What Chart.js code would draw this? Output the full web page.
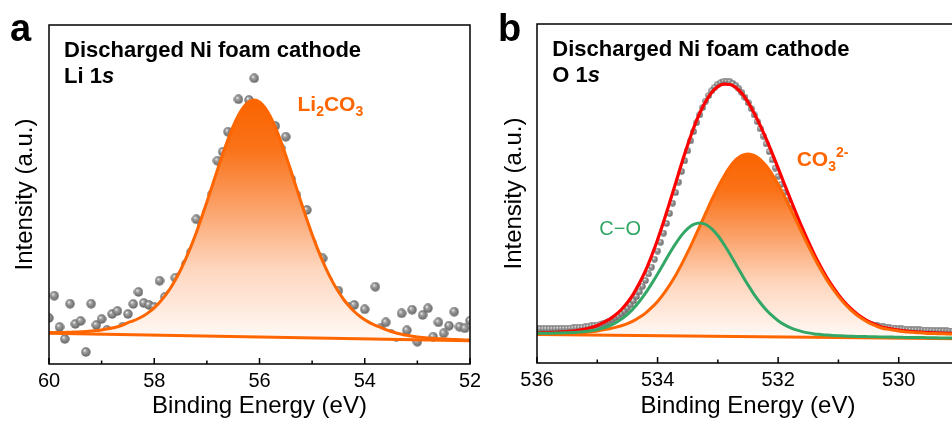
<!DOCTYPE html>
<html><head><meta charset="utf-8">
<script src="https://cdn.jsdelivr.net/npm/chart.js@4.4.1/dist/chart.umd.min.js"></script>
<style>
html,body{margin:0;padding:0;background:#fff;overflow:hidden;width:952px;height:423px;}
#wrap{position:relative;width:952px;height:423px;overflow:hidden;background:#fff;}
canvas{position:absolute;top:0;}
#ca{left:0;} #cb{left:480px;}
</style></head><body>
<div id="wrap"><canvas id="ca" width="480" height="423"></canvas><canvas id="cb" width="492" height="423"></canvas></div>
<script>
// ---------- Panel a : Li 1s ----------
const energyLi = [60.0,59.9,59.8,59.7,59.6,59.5,59.4,59.3,59.2,59.1,59.0,58.9,58.8,58.7,58.6,58.5,58.4,58.3,58.2,58.1,58.0,57.9,57.8,57.7,57.6,57.5,57.4,57.3,57.2,57.1,57.0,56.9,56.8,56.7,56.6,56.5,56.4,56.3,56.2,56.1,56.0,55.9,55.8,55.7,55.6,55.5,55.4,55.3,55.2,55.1,55.0,54.9,54.8,54.7,54.6,54.5,54.4,54.3,54.2,54.1,54.0,53.9,53.8,53.7,53.6,53.5,53.4,53.3,53.2,53.1,53.0,52.9,52.8,52.7,52.6,52.5,52.4,52.3,52.2,52.1,52.0];
const countsLi = [46,68.3,37,25,60.3,40,43,12,60.3,39,45,34,50,53,37.3,50,60,72,61,59,57,83.3,67,70,86.3,88,100,112,144.7,138,152,170,203.3,212.3,232.3,232,264.7,250,264,285.7,255,248,240,238,216,227.3,185,169,152,154,121,108,105.7,84,74,73.3,58,57,59,40,54.7,36.3,77.3,35.7,41.7,30,27.3,50.7,33.7,54.3,22.3,49,55.7,27.3,41.7,30.7,38.3,52.3,37.3,35.7,43.3];
const fitLi = [31.5,31.5,31.5,31.6,31.7,31.9,32.2,32.5,32.9,33.4,34.1,35.0,36.0,37.3,38.9,41.4,43.2,45.5,48.3,51.9,56.2,61.5,67.8,75.3,84.0,94.0,105.3,117.9,131.6,146.5,162.0,178.0,194.1,209.7,224.4,237.6,248.7,257.1,262.3,264.0,262.1,256.7,248.1,236.8,223.4,208.5,192.7,176.4,160.2,144.5,129.5,115.6,102.8,91.3,81.1,72.2,64.5,58.0,52.5,48.0,44.2,41.2,38.7,36.7,34.3,32.5,31.0,29.8,28.7,27.8,27.1,26.5,26.0,25.6,25.3,25.0,24.7,24.5,24.3,24.1,23.9];
const bgLiEnergy = [60, 52];
const bgLi = [30.7, 23.3];
const majorTicksLi = [60, 58, 56, 54, 52];
const minorTicksLi = [59, 57, 55, 53];

// ---------- Panel b : O 1s ----------
const energyO = [536.0,535.9,535.8,535.7,535.6,535.5,535.4,535.3,535.2,535.1,535.0,534.9,534.8,534.7,534.6,534.5,534.4,534.3,534.2,534.1,534.0,533.9,533.8,533.7,533.6,533.5,533.4,533.3,533.2,533.1,533.0,532.9,532.8,532.7,532.6,532.5,532.4,532.3,532.2,532.1,532.0,531.9,531.8,531.7,531.6,531.5,531.4,531.3,531.2,531.1,531.0,530.9,530.8,530.7,530.6,530.5,530.4,530.3,530.2,530.1,530.0,529.9,529.8,529.7,529.6,529.5,529.4,529.3,529.2,529.1,529.0];
const envelopeO = [30.2,30.3,30.5,30.7,31.1,31.5,32.0,32.9,33.9,35.5,37.4,40.4,43.6,48.0,53.5,60.5,69.2,79.9,92.3,107.0,123.3,141.3,160.4,179.9,199.7,218.2,235.3,250.0,261.8,270.7,276.4,278.8,278.5,275.4,269.4,260.8,250.1,237.9,224.3,209.9,194.8,179.5,164.4,149.5,135.1,121.5,108.6,97.0,86.2,76.8,68.4,61.0,54.8,49.5,45.2,41.5,38.7,36.3,34.9,33.8,32.9,32.1,31.5,31.0,30.7,30.3,30.1,29.9,29.7,29.5,29.3];
const carbonateO = [29.0,29.0,29.1,29.1,29.3,29.5,29.7,30.1,30.5,31.2,31.9,33.2,34.2,35.6,37.3,39.4,42.1,45.7,49.9,55.3,61.6,69.2,77.9,87.7,98.9,110.8,123.6,136.8,150.1,163.3,175.6,186.6,196.0,203.3,207.7,209.1,207.7,203.7,197.2,188.8,178.6,167.1,155.0,142.3,129.6,117.2,105.2,94.2,83.9,74.8,66.6,59.4,53.4,48.2,44.0,40.4,37.6,35.3,33.9,32.9,32.0,31.3,30.8,30.3,30.0,29.6,29.4,29.3,29.1,29.0,28.8];
const coO = [29.7,29.7,29.8,29.9,30.1,30.2,30.4,30.9,31.4,32.3,33.4,35.0,37.2,40.1,43.9,48.7,54.6,61.7,69.8,79.1,89.0,99.3,109.7,119.3,127.9,134.4,138.6,140.1,138.5,134.2,127.5,118.8,109.1,98.6,88.2,78.1,68.7,60.5,53.3,47.3,42.3,38.4,35.4,33.1,31.4,30.1,29.1,28.5,27.9,27.6,27.3,27.0,26.8,26.6,26.5,26.3,26.2,26.1,26.0,25.9,25.8,25.6,25.5,25.4,25.4,25.3,25.2,25.1,25.0,24.9,24.8];
const bgOEnergy = [536, 529];
const bgO = [28.5, 24.3];
const dotEnergyO = [536,535.95,535.9,535.85,535.8,535.75,535.7,535.65,535.6,535.55,535.5,535.45,535.4,535.35,535.3,535.25,535.2,535.15,535.1,535.05,535,534.95,534.9,534.85,534.8,534.75,534.7,534.65,534.6,534.55,534.5,534.45,534.4,534.35,534.3,534.25,534.2,534.15,534.1,534.05,534,533.95,533.9,533.85,533.8,533.75,533.7,533.65,533.6,533.55,533.5,533.45,533.4,533.35,533.3,533.25,533.2,533.15,533.1,533.05,533,532.95,532.9,532.85,532.8,532.75,532.7,532.65,532.6,532.55,532.5,532.45,532.4,532.35,532.3,532.25,532.2,532.15,532.1,532.05,532,531.95,531.9,531.85,531.8,531.75,531.7,531.65,531.6,531.55,531.5,531.45,531.4,531.35,531.3,531.25,531.2,531.15,531.1,531.05,531,530.95,530.9,530.85,530.8,530.75,530.7,530.65,530.6,530.55,530.5,530.45,530.4,530.35,530.3,530.25,530.2,530.15,530.1,530.05,530,529.95,529.9,529.85,529.8,529.75,529.7,529.65,529.6,529.55,529.5,529.45,529.4,529.35,529.3,529.25,529.2,529.15,529.1,529.05,529];
const countsO = [34.2,34.2,34.2,34.2,34.2,34.2,34.3,34.4,34.5,34.6,34.7,34.9,35.1,35.3,35.5,35.8,36.1,36.6,37.1,37.5,38.0,38.8,39.7,40.6,42.0,43.6,45.2,47.0,49.4,52.0,55.0,58.3,62.1,66.5,71.2,76.7,82.5,89.1,95.9,103.8,112.0,120.8,129.9,139.6,149.6,159.9,170.4,180.9,191.6,202.3,212.3,222.2,231.5,240.4,248.3,255.6,262.0,267.5,272.3,275.9,278.9,280.5,281.8,281.6,281.3,279.6,277.4,274.2,270.3,265.7,260.4,254.6,248.2,241.6,234.4,227.0,219.2,211.4,203.2,195.0,186.8,178.6,170.4,162.3,154.3,146.5,138.7,131.3,124.0,117.0,110.2,103.9,97.8,92.0,86.6,81.5,76.8,72.2,68.1,64.1,60.8,57.5,54.6,51.9,49.6,47.4,45.4,43.7,42.2,40.8,39.5,38.7,37.9,37.3,36.7,36.2,35.8,35.3,35.0,34.6,34.3,34.1,33.9,33.7,33.5,33.3,33.2,33.1,33.0,32.9,32.8,32.7,32.5,32.4,32.3,32.2,32.1,32.0,32.0,31.9,31.9];
const majorTicksO = [536, 534, 532, 530];
const minorTicksO = [535, 533, 531];

// ---------- styling ----------
const FAM = '"Liberation Sans", Arial, Helvetica, sans-serif';
const ORANGE = '#FF6600';
const RED = '#FF0000';
const GREEN = '#33A866';

function sphere(d) {
  const c = document.createElement('canvas');
  c.width = d; c.height = d;
  const g = c.getContext('2d');
  const r = d / 2;
  const grad = g.createRadialGradient(r * 0.72, r * 0.66, r * 0.05, r, r, r);
  grad.addColorStop(0, '#f2f2f2');
  grad.addColorStop(0.28, '#a4a4a4');
  grad.addColorStop(0.72, '#7a7a7a');
  grad.addColorStop(1, '#5e5e5e');
  g.fillStyle = grad;
  g.beginPath(); g.arc(r, r, r - 0.3, 0, Math.PI * 2); g.fill();
  return c;
}

function pts(xs, ys) { return xs.map((x, i) => ({ x: x, y: ys[i] })); }

function fadeFill(peakArr, baseArr) {
  return (c) => {
    const ch = c.chart;
    if (!ch.chartArea) return 'rgb(252,168,114)';
    const y = ch.scales.y;
    const top = y.getPixelForValue(Math.max(...peakArr));
    const bot = y.getPixelForValue(Math.min(...baseArr));
    const g = ch.ctx.createLinearGradient(0, top, 0, bot);
    g.addColorStop(0, 'rgb(250,100,0)');
    g.addColorStop(0.2, 'rgb(250,114,24)');
    g.addColorStop(0.45, 'rgb(251,162,106)');
    g.addColorStop(0.7, 'rgb(254,214,190)');
    g.addColorStop(1, 'rgb(255,250,247)');
    return g;
  };
}

function framePlugin(major, minor) {
  return {
    id: 'frame',
    afterDatasetsDraw(chart) {
      const { ctx, chartArea: a } = chart;
      const x = chart.scales.x;
      ctx.save();
      ctx.strokeStyle = '#000';
      ctx.lineWidth = 1.5;
      ctx.strokeRect(a.left, a.top, a.right - a.left, a.bottom - a.top);
      ctx.beginPath();
      major.forEach(v => { const p = x.getPixelForValue(v); ctx.moveTo(p, a.bottom); ctx.lineTo(p, a.bottom - 6); });
      minor.forEach(v => { const p = x.getPixelForValue(v); ctx.moveTo(p, a.bottom); ctx.lineTo(p, a.bottom - 3.5); });
      ctx.stroke();
      ctx.restore();
    }
  };
}

function notesPlugin(items) {
  return {
    id: 'notes',
    afterDraw(chart) {
      const ctx = chart.ctx;
      ctx.save();
      ctx.textBaseline = 'alphabetic';
      ctx.textAlign = 'left';
      items.forEach(n => {
        let x = n.x;
        n.runs.forEach(r => {
          ctx.font = r.font;
          ctx.fillStyle = r.color || n.color || '#000';
          ctx.fillText(r.t, x, n.y + (r.dy || 0));
          x += ctx.measureText(r.t).width;
        });
      });
      ctx.restore();
    }
  };
}

function scalesFor(min, max, major, yWidth, xHeight, yTitlePad) {
  return {
    x: {
      type: 'linear', reverse: true, min: min, max: max,
      afterBuildTicks: s => { s.ticks = major.map(v => ({ value: v })); },
      afterFit: s => { s.height = xHeight; s.paddingLeft = 0; s.paddingRight = 0; },
      grid: { display: false, drawTicks: false },
      border: { display: false },
      ticks: { color: '#000', font: { family: FAM, size: 20 }, padding: 5, maxRotation: 0, autoSkip: false },
      title: { display: true, text: 'Binding Energy (eV)', color: '#000', font: { family: FAM, size: 24 }, padding: { top: 0, bottom: 2 } }
    },
    y: {
      min: 0, max: 339,
      afterFit: s => { s.width = yWidth; s.paddingTop = 0; s.paddingBottom = 0; },
      ticks: { display: false },
      grid: { display: false, drawTicks: false },
      border: { display: false },
      title: { display: true, text: 'Intensity (a.u.)', color: '#000', font: { family: FAM, size: 24 }, padding: { top: yTitlePad, bottom: 0 } }
    }
  };
}

const common = {
  responsive: false, animation: false, devicePixelRatio: 1, events: [],
  plugins: { legend: { display: false }, tooltip: { enabled: false } }
};

// ---------- chart a ----------
new Chart(document.getElementById('ca'), {
  type: 'line',
  data: {
    datasets: [
      { data: pts(energyLi, countsLi), showLine: false, pointStyle: sphere(10), pointRadius: 5, order: 3 },
      { data: pts(bgLiEnergy, bgLi), borderColor: ORANGE, borderWidth: 3, pointRadius: 0, fill: false, order: 1 },
      { data: pts(energyLi, fitLi), borderColor: ORANGE, borderWidth: 3, pointRadius: 0, cubicInterpolationMode: 'monotone',
        fill: 1, backgroundColor: fadeFill(fitLi, bgLi), order: 2 }
    ]
  },
  options: Object.assign({}, common, {
    layout: { padding: { top: 25, right: 10, bottom: 0, left: 0 } },
    scales: scalesFor(52, 60, majorTicksLi, 49, 59, 10.6)
  }),
  plugins: [framePlugin(majorTicksLi, minorTicksLi), notesPlugin([
    { x: 10, y: 40.5, runs: [{ t: 'a', font: 'bold 38px ' + FAM }] },
    { x: 64, y: 56.5, runs: [{ t: 'Discharged Ni foam cathode', font: 'bold 22px ' + FAM }] },
    { x: 64, y: 83.3, runs: [{ t: 'Li 1', font: 'bold 22px ' + FAM }, { t: 's', font: 'italic bold 22px ' + FAM }] },
    { x: 297.5, y: 111.3, color: ORANGE, runs: [
      { t: 'Li', font: 'bold 21px ' + FAM }, { t: '2', font: 'bold 14px ' + FAM, dy: 5 },
      { t: 'CO', font: 'bold 21px ' + FAM }, { t: '3', font: 'bold 14px ' + FAM, dy: 5 }] }
  ])]
});

// ---------- chart b ----------
new Chart(document.getElementById('cb'), {
  type: 'line',
  data: {
    datasets: [
      { data: pts(dotEnergyO, countsO), showLine: false, pointStyle: sphere(7), pointRadius: 4, order: 6 },
      { data: pts(bgOEnergy, bgO), borderColor: ORANGE, borderWidth: 3, pointRadius: 0, fill: false, order: 3 },
      { data: pts(energyO, envelopeO), borderColor: RED, borderWidth: 3.2, pointRadius: 0, cubicInterpolationMode: 'monotone', fill: false, order: 5 },
      { data: pts(energyO, carbonateO), borderColor: ORANGE, borderWidth: 3, pointRadius: 0, cubicInterpolationMode: 'monotone',
        fill: 1, backgroundColor: fadeFill(carbonateO, bgO), order: 4 },
      { data: pts(energyO, coO), borderColor: GREEN, borderWidth: 3, pointRadius: 0, cubicInterpolationMode: 'monotone', fill: false, order: 2 }
    ]
  },
  options: Object.assign({}, common, {
    layout: { padding: { top: 24, right: 13, bottom: 0, left: 0 } },
    scales: scalesFor(529, 536, majorTicksO, 57, 60, 19.6)
  }),
  plugins: [framePlugin(majorTicksO, minorTicksO), notesPlugin([
    { x: 18, y: 40.5, runs: [{ t: 'b', font: 'bold 38px ' + FAM }] },
    { x: 72.3, y: 55.7, runs: [{ t: 'Discharged Ni foam cathode', font: 'bold 22px ' + FAM }] },
    { x: 72.3, y: 81.7, runs: [{ t: 'O 1', font: 'bold 22px ' + FAM }, { t: 's', font: 'italic bold 22px ' + FAM }] },
    { x: 316.7, y: 165.5, color: ORANGE, runs: [
      { t: 'CO', font: 'bold 21px ' + FAM }, { t: '3', font: 'bold 14px ' + FAM, dy: 5 },
      { t: '2-', font: 'bold 14px ' + FAM, dy: -9 }] },
    { x: 119.3, y: 235, color: GREEN, runs: [{ t: 'C\u2212O', font: '20px ' + FAM }] }
  ])]
});
</script>
</body></html>
